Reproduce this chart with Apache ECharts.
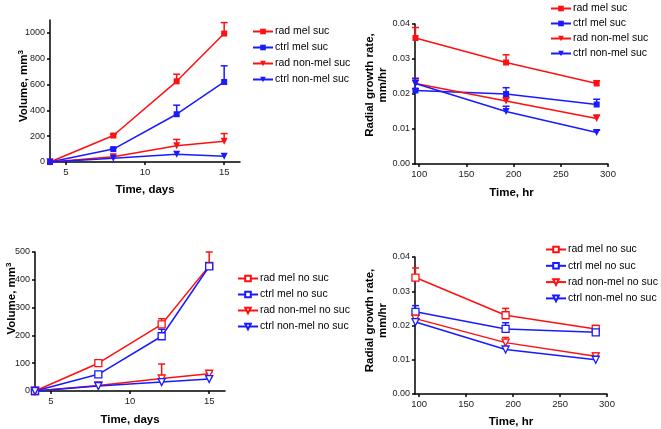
<!DOCTYPE html>
<html><head><meta charset="utf-8">
<script src="https://cdn.jsdelivr.net/npm/echarts@6/dist/echarts.min.js"></script>
<style>html,body{margin:0;padding:0;background:#fff}#c{width:661px;height:429px}</style>
</head><body><div id="c"></div>
<script>
// ---- data ----
const days = [4, 8, 12, 15];
const hours = [96, 192, 288];
const dayTicks = [5, 10, 15];
const hourTicks = [100, 150, 200, 250, 300];
const vol1Ticks = [0, 200, 400, 600, 800, 1000];
const vol2Ticks = [0, 100, 200, 300, 400, 500];
const rateTicks = [0, 0.01, 0.02, 0.03, 0.04];

const names1 = ['rad mel suc', 'ctrl mel suc', 'rad non-mel suc', 'ctrl non-mel suc'];
const names2 = ['rad mel no suc', 'ctrl mel no suc', 'rad non-mel no suc', 'ctrl non-mel no suc'];

// panel A: volume, sucrose
const volSucRadMel = [0, 205, 625, 995];
const volSucCtrlMel = [0, 100, 370, 620];
const volSucRadNon = [0, 40, 125, 160];
const volSucCtrlNon = [0, 30, 60, 45];
const errVolSucRadMel = [null, 12, 55, 85];
const errVolSucCtrlMel = [null, 8, 70, 125];
const errVolSucRadNon = [null, null, 50, 60];
const errVolSucCtrlNon = [null, null, null, null];

// panel B: radial growth rate, sucrose
const rateSucRadMel = [0.036, 0.029, 0.023];
const rateSucCtrlMel = [0.021, 0.020, 0.017];
const rateSucRadNon = [0.023, 0.018, 0.013];
const rateSucCtrlNon = [0.023, 0.015, 0.009];
const errRateSucRadMel = [0.003, 0.0022, 0.0008];
const errRateSucCtrlMel = [0.0005, 0.0018, 0.0015];
const errRateSucRadNon = [0.001, 0.001, 0.001];
const errRateSucCtrlNon = [0.0015, 0.0015, 0.0007];

// panel C: volume, no sucrose
const volNoRadMel = [0, 100, 240, 450];
const volNoCtrlMel = [0, 60, 197, 448];
const volNoRadNon = [0, 20, 45, 62];
const volNoCtrlNon = [0, 18, 32, 43];
const errVolNoRadMel = [null, 5, 20, 50];
const errVolNoCtrlMel = [null, 5, 25, null];
const errVolNoRadNon = [null, null, 52, 5];
const errVolNoCtrlNon = [null, null, null, 8];

// panel D: radial growth rate, no sucrose
const rateNoRadMel = [0.034, 0.023, 0.019];
const rateNoCtrlMel = [0.024, 0.019, 0.018];
const rateNoRadNon = [0.022, 0.015, 0.011];
const rateNoCtrlNon = [0.021, 0.013, 0.010];
const errRateNoRadMel = [0.0028, 0.002, 0.001];
const errRateNoCtrlMel = [0.0018, 0.0018, null];
const errRateNoRadNon = [0.001, 0.0015, 0.001];
const errRateNoCtrlNon = [null, null, null];

// ---- styling ----
const RED = '#ff1010', BLUE = '#1a1aff';
const FONT = "'Liberation Sans', Arial, sans-serif";
const colors = [RED, BLUE, RED, BLUE];
const symbols = ['rect', 'rect', 'triangle', 'triangle'];

const chart = echarts.init(document.getElementById('c'), null, {renderer: 'canvas'});

function xAxis(gi, min, max, ticks, name, gap) {
  return {
    type: 'value', gridIndex: gi, min: min, max: max,
    name: name, nameLocation: 'middle', nameGap: gap, nameMoveOverlap: false,
    nameTextStyle: {fontFamily: FONT, fontSize: 11.5, fontWeight: 'bold', color: '#000'},
    axisLine: {show: true, lineStyle: {color: '#000', width: 1.5}},
    axisTick: {show: true, customValues: ticks, length: 3, lineStyle: {color: '#000', width: 1.5}},
    axisLabel: {customValues: ticks, fontFamily: FONT, fontSize: 9.5, color: '#222', margin: 5,
      formatter: v => String(v)},
    splitLine: {show: false}
  };
}
function yAxis(gi, min, max, ticks, name, gap, fmt, pad) {
  return {
    type: 'value', gridIndex: gi, min: min, max: max,
    name: name, nameLocation: 'middle', nameGap: gap, nameRotate: 90, nameMoveOverlap: false,
    nameTextStyle: {fontFamily: FONT, fontSize: 11.5, fontWeight: 'bold', color: '#000', align: 'center',
      lineHeight: 13, padding: pad,
      rich: {sup: {fontFamily: FONT, fontSize: 8, fontWeight: 'bold', color: '#000', verticalAlign: 'top', padding: [0, 0, 6, 0]}}},
    axisLine: {show: true, onZero: false, lineStyle: {color: '#000', width: 1.5}},
    axisTick: {show: true, customValues: ticks, length: 3, lineStyle: {color: '#000', width: 1.5}},
    axisLabel: {customValues: ticks, fontFamily: FONT, fontSize: 9, color: '#222', margin: 5, formatter: fmt},
    splitLine: {show: false}
  };
}

const series = [];
function addPanel(gi, xs, ys, errs, names, open) {
  ys.forEach((arr, i) => {
    series.push({
      type: 'line', name: names[i], xAxisIndex: gi, yAxisIndex: gi,
      data: xs.map((x, k) => [x, arr[k]]),
      symbol: symbols[i], symbolRotate: symbols[i] === 'triangle' ? 180 : 0,
      symbolSize: open ? 7 : (symbols[i] === 'rect' ? 6 : 7),
      showAllSymbol: true,
      lineStyle: {color: colors[i], width: 1.5},
      itemStyle: open ? {color: '#fff', borderColor: colors[i], borderWidth: 1.3} : {color: colors[i], borderWidth: 0},
      color: colors[i],
      emphasis: {disabled: true}, animation: false, z: 3
    });
    const ed = [];
    xs.forEach((x, k) => { if (errs[i][k] != null) ed.push([x, arr[k], errs[i][k]]); });
    series.push({
      type: 'custom', name: 'err' + gi + '_' + i, xAxisIndex: gi, yAxisIndex: gi,
      data: ed, clip: false, animation: false, z: 2, silent: true,
      itemStyle: {color: colors[i]},
      encode: {x: 0, y: [1, 2]},
      renderItem: function (params, api) {
        const x = api.value(0), y = api.value(1), e = api.value(2);
        const p0 = api.coord([x, y]), p1 = api.coord([x, y + e]);
        const hw = 3.5;
        const st = {stroke: colors[i], lineWidth: 1.5};
        return {type: 'group', children: [
          {type: 'line', shape: {x1: p0[0], y1: p0[1], x2: p1[0], y2: p1[1]}, style: st},
          {type: 'line', shape: {x1: p1[0] - hw, y1: p1[1], x2: p1[0] + hw, y2: p1[1]}, style: st}
        ]};
      }
    });
  });
}
addPanel(0, days, [volSucRadMel, volSucCtrlMel, volSucRadNon, volSucCtrlNon],
  [errVolSucRadMel, errVolSucCtrlMel, errVolSucRadNon, errVolSucCtrlNon], names1, false);
addPanel(1, hours, [rateSucRadMel, rateSucCtrlMel, rateSucRadNon, rateSucCtrlNon],
  [errRateSucRadMel, errRateSucCtrlMel, errRateSucRadNon, errRateSucCtrlNon], names1, false);
addPanel(2, days, [volNoRadMel, volNoCtrlMel, volNoRadNon, volNoCtrlNon],
  [errVolNoRadMel, errVolNoCtrlMel, errVolNoRadNon, errVolNoCtrlNon], names2, true);
addPanel(3, hours, [rateNoRadMel, rateNoCtrlMel, rateNoRadNon, rateNoCtrlNon],
  [errRateNoRadMel, errRateNoCtrlMel, errRateNoRadNon, errRateNoCtrlNon], names2, true);

function legend(names, left, top, gap) {
  return {
    data: names, left: left, top: top, orient: 'vertical', itemGap: gap, padding: 0,
    itemWidth: 20, itemHeight: 7, selectedMode: false,
    textStyle: {fontFamily: FONT, fontSize: 10.5, color: '#000', padding: [0, 0, 0, -3]}
  };
}

const fmtRate = v => v.toFixed(2);
const fmtInt = v => String(v);
const option = {
  animation: false,
  grid: [
    {left: 50, top: 20, width: 190, height: 142},
    {left: 415, top: 24, width: 193, height: 140},
    {left: 35, top: 252, width: 190, height: 139},
    {left: 415, top: 257, width: 192, height: 138}
  ],
  xAxis: [
    xAxis(0, 4, 16, dayTicks, 'Time, days', 22),
    xAxis(1, 95.5, 300, hourTicks, 'Time, hr', 23),
    xAxis(2, 4, 16, dayTicks, 'Time, days', 23),
    xAxis(3, 95.5, 300, hourTicks, 'Time, hr', 22)
  ],
  yAxis: [
    yAxis(0, 0, 1100, vol1Ticks, 'Volume, mm{sup|3}', 20, fmtInt, [0, 0, 0, 10]),
    yAxis(1, 0, 0.04, rateTicks, 'Radial growth rate,\nmm/hr', 26, fmtRate, [0, 0, 0, 18]),
    yAxis(2, 0, 500, vol2Ticks, 'Volume, mm{sup|3}', 17, fmtInt, [0, 0, 0, 46]),
    yAxis(3, 0, 0.04, rateTicks, 'Radial growth rate,\nmm/hr', 26, fmtRate, [0, 0, 0, 10])
  ],
  legend: [
    legend(names1, 252, 26, 5),
    legend(names1, 550, 3, 4),
    legend(names2, 237, 273, 5),
    legend(names2, 545, 244, 5.3)
  ],
  series: series
};
chart.setOption(option);
</script>
</body></html>
